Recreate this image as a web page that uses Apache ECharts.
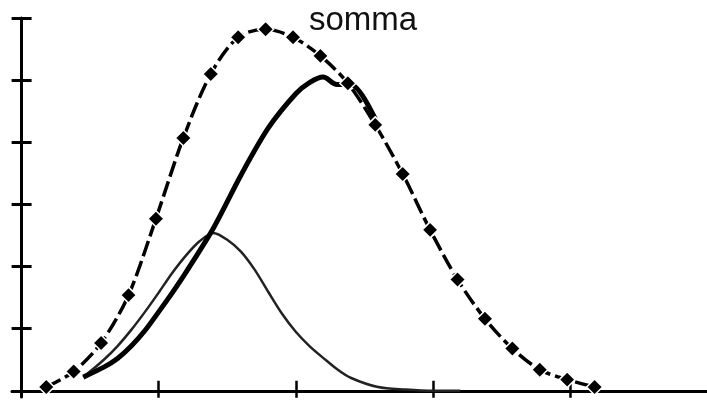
<!DOCTYPE html>
<html>
<head>
<meta charset="utf-8">
<script src="https://cdn.jsdelivr.net/npm/echarts@6/dist/echarts.min.js"></script>
<style>
  html, body { margin: 0; padding: 0; background: #fff; }
  #main { width: 707px; height: 402px; }
</style>
</head>
<body>
<div id="main"></div>
<script>
// data (x in axis units, y in axis units)
const sommaX = [0.18, 0.38, 0.58, 0.78, 0.98, 1.18, 1.38, 1.58, 1.78, 1.98, 2.18,
                2.38, 2.58, 2.78, 2.98, 3.18, 3.38, 3.58, 3.78, 3.98, 4.18];
const sommaY = [0.06, 0.31, 0.77, 1.54, 2.77, 4.07, 5.10, 5.69, 5.82, 5.69, 5.39,
                4.95, 4.28, 3.49, 2.59, 1.79, 1.16, 0.68, 0.34, 0.18, 0.06];

const thinX = [0.45, 0.6, 0.7, 0.8, 0.9, 1.0, 1.1, 1.2, 1.3, 1.4, 1.5, 1.6, 1.7, 1.8, 1.9, 2.0,
               2.1, 2.2, 2.3, 2.4, 2.6, 2.8, 3.0, 3.2];
const thinY = [0.22, 0.5, 0.72, 0.98, 1.27, 1.58, 1.9, 2.18, 2.41, 2.54, 2.43, 2.24, 1.95, 1.59, 1.24, 0.95,
               0.72, 0.53, 0.35, 0.21, 0.06, 0.02, 0, 0];

const thickX = [0.45, 0.6, 0.7, 0.8, 0.9, 1.0, 1.1, 1.2, 1.4, 1.6, 1.8, 2.0, 2.1, 2.2, 2.3, 2.4, 2.6];
const thickY = [0.22, 0.38, 0.52, 0.72, 0.97, 1.27, 1.58, 1.91, 2.62, 3.47, 4.23, 4.78, 4.96, 5.05, 4.93, 4.93, 4.28];

const xTicks = [1, 2, 3, 4];
const yTicks = [0, 1, 2, 3, 4, 5, 6];

const pairs = (xs, ys) => xs.map((x, i) => [x, ys[i]]);

let dom = document.getElementById("main");
let myChart = echarts.init(dom, null, { renderer: "canvas" });

const baseX = {
    type: "value",
    position: "bottom",
    min: -0.07,
    max: 5,
    splitLine: { show: false },
    axisLabel: { show: false },
};
const baseY = {
    type: "value",
    position: "left",
    min: -0.1,
    max: 6,
    splitLine: { show: false },
    axisLabel: { show: false },
};

let option = {
    animation: false,
    grid: { left: 12, right: -3, top: 18, bottom: 5 },
    xAxis: [
        Object.assign({}, baseX, {
            axisLine: { onZero: true, lineStyle: { color: "#000", width: 3 } },
            axisTick: { customValues: xTicks, length: 7, lineStyle: { color: "#000", width: 2.5 } },
        }),
        Object.assign({}, baseX, {
            axisLine: { show: false, onZero: true },
            axisTick: { customValues: xTicks, inside: true, length: 10, lineStyle: { color: "#000", width: 2.5 } },
        }),
    ],
    yAxis: [
        Object.assign({}, baseY, {
            axisLine: { onZero: true, lineStyle: { color: "#000", width: 3 } },
            axisTick: { customValues: yTicks, length: 10, lineStyle: { color: "#000", width: 3 } },
        }),
        Object.assign({}, baseY, {
            axisLine: { show: false, onZero: true },
            axisTick: { customValues: yTicks, inside: true, length: 10, lineStyle: { color: "#000", width: 3 } },
        }),
    ],
    graphic: [{
        type: "text",
        left: 309,
        top: 4,
        style: { text: "somma", font: "33px 'Liberation Sans', Arial, sans-serif", fill: "#111" },
    }],
    series: [
        {
            name: "a",
            type: "line",
            data: pairs(thinX, thinY),
            smooth: 0.3,
            showSymbol: false,
            lineStyle: { color: "#222", width: 2.5 },
        },
        {
            name: "b",
            type: "line",
            data: pairs(thickX, thickY),
            smooth: 0.3,
            showSymbol: false,
            lineStyle: { color: "#000", width: 5 },
        },
        {
            name: "somma",
            type: "line",
            data: pairs(sommaX, sommaY),
            smooth: 0.3,
            symbol: "diamond",
            symbolSize: 16,
            itemStyle: { color: "#000", borderColor: "#fff", borderWidth: 1.5 },
            lineStyle: { color: "#000", width: 3.5, type: [16, 5] },
        },
    ],
};

myChart.setOption(option);
window.addEventListener("resize", myChart.resize);
</script>
</body>
</html>
